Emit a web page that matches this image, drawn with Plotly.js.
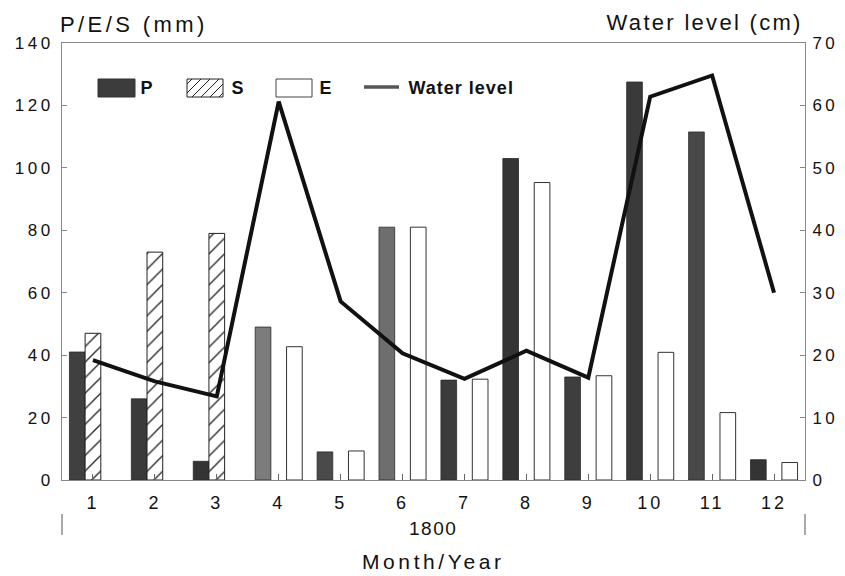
<!DOCTYPE html>
<html>
<head>
<meta charset="utf-8">
<script src="https://cdn.plot.ly/plotly-3.0.1.min.js"></script>
<style>
html,body{margin:0;padding:0;background:#fff;}
#chart{width:845px;height:576px;}
#chart g.ytick text, #chart g.y2tick text {letter-spacing:3.5px;}
#chart g.xtick text {letter-spacing:3px;}
#chart g.annotation[data-index="0"] text {letter-spacing:3.4px;}
#chart g.annotation[data-index="1"] text {letter-spacing:2.3px;}
#chart g.annotation[data-index="2"] text {letter-spacing:1.5px;}
#chart g.annotation[data-index="3"] text {letter-spacing:3.6px;}
#chart g.annotation[data-index="4"] text,
#chart g.annotation[data-index="5"] text,
#chart g.annotation[data-index="6"] text {letter-spacing:1px;}
#chart g.annotation[data-index="7"] text {letter-spacing:1px;}
</style>
</head>
<body>
<div id="chart"></div>
<script>
const months = [1,2,3,4,5,6,7,8,9,10,11,12];
const monthLabels = ['1','2','3','4','5','6','7','8','9','10','11','12'];
const precipP = [41, 26, 6, 49, 9, 81, 32, 103, 33, 127.5, 111.5, 6.5];
const snowS = [47, 73, 79, null, null, null, null, null, null, null, null, null];
const evapE = [null, null, null, 42.7, 9.3, 81, 32.3, 95.3, 33.4, 40.9, 21.6, 5.6];
const waterLevel = [19.2, 15.8, 13.4, 60.6, 28.6, 20.3, 16.2, 20.7, 16.4, 61.4, 64.8, 30.0];
const seriesNames = ['P', 'S', 'E', 'Water level'];

// styling (scan shading of the P bars)
const pShades = ['#404040','#3a3a3a','#343434','#7c7c7c','#4a4a4a','#6e6e6e','#3c3c3c','#343434','#3e3e3e','#3a3a3a','#484848','#343434'];

const font = 'Liberation Sans, Arial, Helvetica, sans-serif';
const traces = [
  {type:'bar', name:seriesNames[0], x:months, y:precipP,
   marker:{color:pShades, line:{color:'#2a2a2a', width:0.8}}},
  {type:'bar', name:seriesNames[1], x:months, y:snowS,
   marker:{color:'#ffffff', line:{color:'#222', width:1},
           pattern:{shape:'/', fgcolor:'#222', bgcolor:'#fff', size:11, solidity:0.12}}},
  {type:'bar', name:seriesNames[2], x:months, y:evapE,
   marker:{color:'#ffffff', line:{color:'#333', width:1}}},
  {type:'scatter', mode:'lines', name:seriesNames[3], x:months, y:waterLevel, yaxis:'y2',
   line:{color:'#111', width:4}}
];

// pixel -> paper helpers for decorations (plot area 62..805 x 43..480)
const L = 62, R = 805, T = 43, B = 480;
const px = v => (v - L) / (R - L);
const py = v => (B - v) / (B - T);

const legendY = py(88);
const swTop = py(79), swBot = py(97);
const shapes = [
  // separators of the year band
  {type:'line', xref:'paper', yref:'paper', x0:0, x1:0, y0:py(514), y1:py(535), line:{color:'#555', width:1}},
  {type:'line', xref:'paper', yref:'paper', x0:1, x1:1, y0:py(514), y1:py(535), line:{color:'#555', width:1}},
  // legend swatches
  {type:'rect', xref:'paper', yref:'paper', x0:px(98), x1:px(135), y0:swBot, y1:swTop, fillcolor:'#3c3c3c', line:{color:'#333', width:1}},
  {type:'rect', xref:'paper', yref:'paper', x0:px(187), x1:px(223), y0:swBot, y1:swTop, fillcolor:'#fff', line:{color:'#222', width:1}},
  {type:'rect', xref:'paper', yref:'paper', x0:px(276), x1:px(312), y0:swBot, y1:swTop, fillcolor:'#fff', line:{color:'#444', width:1}},
  {type:'line', xref:'paper', yref:'paper', x0:px(364), x1:px(399), y0:py(87), y1:py(87), line:{color:'#555', width:3.5}}
];
// hatch lines inside the S swatch
[[187,84,192,79],[187,93,201,79],[192,97,210,79],[201,97,219,79],[210,97,223,84],[219,97,223,93]].forEach(s => {
  shapes.push({type:'line', xref:'paper', yref:'paper', x0:px(s[0]), y0:py(s[1]), x1:px(s[2]), y1:py(s[3]), line:{color:'#222', width:1}});
});

const layout = {
  width:845, height:576,
  margin:{l:62, r:40, t:43, b:96},
  paper_bgcolor:'#fff', plot_bgcolor:'#fff',
  font:{family:font, color:'#111', size:18},
  barmode:'group', bargap:0.24, bargroupgap:0,
  showlegend:false,
  xaxis:{range:[0.5,12.5], tickmode:'array', tickvals:months, ticktext:monthLabels,
         ticks:'inside', ticklen:6, tickcolor:'#666', showline:true, linecolor:'#888', linewidth:1,
         mirror:true, showgrid:false, zeroline:false, tickfont:{size:18}, ticklabelstandoff:6},
  yaxis:{range:[0,140], dtick:20, ticks:'inside', ticklen:5, tickcolor:'#888',
         showline:true, linecolor:'#888', linewidth:1, showgrid:false, zeroline:false,
         tickfont:{size:17}, ticklabelstandoff:4},
  yaxis2:{range:[0,70], dtick:10, overlaying:'y', side:'right', ticks:'inside', ticklen:5,
          tickcolor:'#888', showline:true, linecolor:'#888', linewidth:1, showgrid:false,
          zeroline:false, tickfont:{size:17}, ticklabelstandoff:3},
  annotations:[
    {text:'P/E/S (mm)', xref:'paper', yref:'paper', x:px(134), y:py(24), xanchor:'center', yanchor:'middle',
     showarrow:false, font:{size:22}},
    {text:'Water level (cm)', xref:'paper', yref:'paper', x:px(704), y:py(23), xanchor:'center', yanchor:'middle',
     showarrow:false, font:{size:22}},
    {text:'1800', xref:'paper', yref:'paper', x:px(433), y:py(528), xanchor:'center', yanchor:'middle',
     showarrow:false, font:{size:19}},
    {text:'Month/Year', xref:'paper', yref:'paper', x:px(434), y:py(561), xanchor:'center', yanchor:'middle',
     showarrow:false, font:{size:21}},
    {text:'<b>'+seriesNames[0]+'</b>', xref:'paper', yref:'paper', x:px(147), y:legendY, xanchor:'center', yanchor:'middle',
     showarrow:false, font:{size:18}},
    {text:'<b>'+seriesNames[1]+'</b>', xref:'paper', yref:'paper', x:px(238), y:legendY, xanchor:'center', yanchor:'middle',
     showarrow:false, font:{size:18}},
    {text:'<b>'+seriesNames[2]+'</b>', xref:'paper', yref:'paper', x:px(326), y:legendY, xanchor:'center', yanchor:'middle',
     showarrow:false, font:{size:18}},
    {text:'<b>'+seriesNames[3]+'</b>', xref:'paper', yref:'paper', x:px(461), y:legendY, xanchor:'center', yanchor:'middle',
     showarrow:false, font:{size:18}}
  ],
  shapes:shapes
};
Plotly.newPlot('chart', traces, layout, {displayModeBar:false, staticPlot:true});
</script>
</body>
</html>
